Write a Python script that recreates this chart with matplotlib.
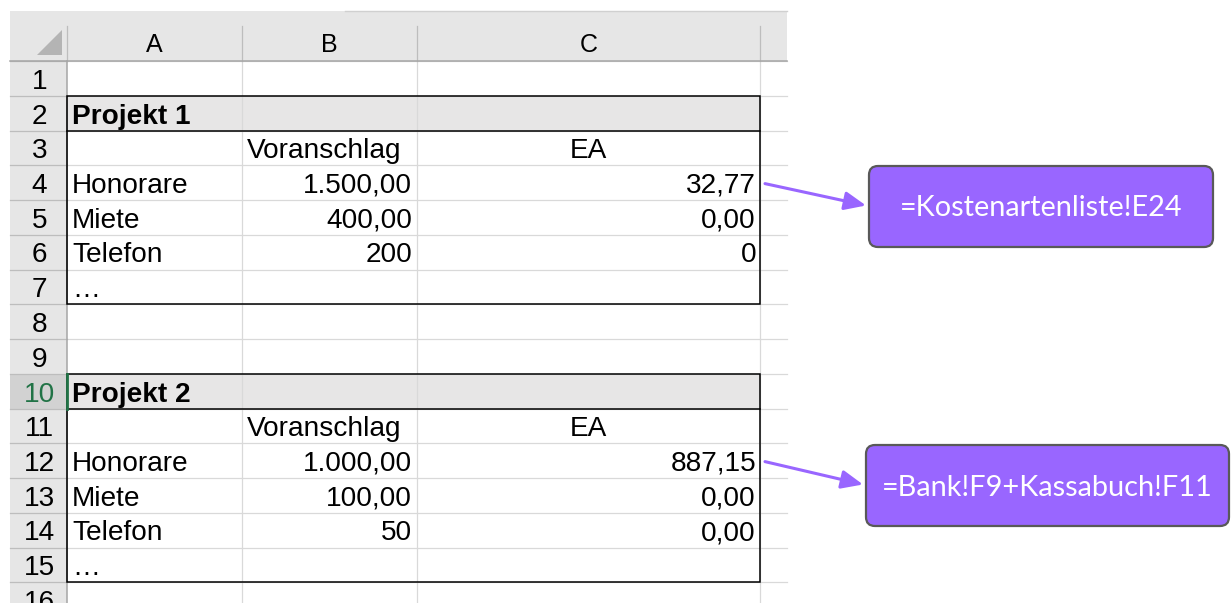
import matplotlib
matplotlib.use("Agg")
import matplotlib.pyplot as plt
from matplotlib.patches import Rectangle, Polygon, FancyBboxPatch

# --- sheet contents ---
col_letters = ["A", "B", "C"]
projects = ["Projekt 1", "Projekt 2"]
items = ["Honorare", "Miete", "Telefon", "…"]
voranschlag_1 = ["1.500,00", "400,00", "200"]
ea_1 = ["32,77", "0,00", "0"]
voranschlag_2 = ["1.000,00", "100,00", "50"]
ea_2 = ["887,15", "0,00", "0,00"]
formulas = ["=Kostenartenliste!E24", "=Bank!F9+Kassabuch!F11"]
n_rows = 16

# --- layout (pixels) ---
W, H = 1231, 603
col_x = [10, 67, 242, 417, 760, 787]   # row-header, A, B, C, D edges
head_top, head_bot = 11, 61
row_h = 34.75
purple = "#9966ff"

def rtop(r):
    return head_bot + (r - 1) * row_h

def rbot(r):
    return head_bot + r * row_h

fig = plt.figure(figsize=(W / 100, H / 100), dpi=100)
ax = fig.add_axes([0, 0, 1, 1])
ax.set_xlim(0, W)
ax.set_ylim(H, 0)
ax.axis("off")

cell_font = dict(family="Liberation Sans", fontsize=20.2, color="black")

# header band and row-header column
ax.add_patch(Rectangle((col_x[0], head_top), col_x[-1] - col_x[0], head_bot - head_top,
                       facecolor="#e6e6e6", edgecolor="none", zorder=1))
ax.add_patch(Rectangle((col_x[0], head_bot), col_x[1] - col_x[0], H - head_bot,
                       facecolor="#e6e6e6", edgecolor="none", zorder=1))
ax.plot([345, col_x[-1]], [10.5, 10.5], color="#d0d0d0", lw=1, zorder=2)
# active row header
ax.add_patch(Rectangle((col_x[0], rtop(10)), col_x[1] - col_x[0], row_h,
                       facecolor="#d2d2d2", edgecolor="none", zorder=1.5))
# select-all triangle
ax.add_patch(Polygon([(37, 55), (62, 55), (62, 30)], closed=True,
                     facecolor="#b4b4b4", edgecolor="none", zorder=2))

# project title fills
for r in (2, 10):
    ax.add_patch(Rectangle((col_x[1], rtop(r)), col_x[4] - col_x[1], row_h,
                           facecolor="#e7e6e6", edgecolor="none", zorder=1))

# grid lines
for r in range(0, n_rows + 1):
    y = rbot(r)
    ax.plot([col_x[1], col_x[-1]], [y, y], color="#d9d9d9", lw=0.9, zorder=2)
    ax.plot([col_x[0], col_x[1]], [y, y], color="#bdbdbd", lw=0.9, zorder=2)
for x in col_x[2:5]:
    ax.plot([x, x], [head_bot, H], color="#d9d9d9", lw=0.9, zorder=2)
for x in col_x[1:5]:
    ax.plot([x, x], [26, head_bot], color="#bdbdbd", lw=0.9, zorder=2)
ax.plot([col_x[0], col_x[-1]], [head_bot, head_bot], color="#a6a6a6", lw=1.1, zorder=2.5)
ax.plot([col_x[1], col_x[1]], [head_bot, H], color="#a6a6a6", lw=1.1, zorder=2.5)

# column letters
for i, c in enumerate(col_letters):
    ax.text((col_x[i + 1] + col_x[i + 2]) / 2, head_bot - 9, c, ha="center", va="baseline",
            family="Liberation Sans", fontsize=18, color="black", zorder=3)

# row numbers
for r in range(1, n_rows + 1):
    ax.text((col_x[0] + col_x[1]) / 2 + 1, rbot(r) - 7, str(r), ha="center", va="baseline",
            family="Liberation Sans", fontsize=20.2,
            color="#217346" if r == 10 else "black", zorder=3)

# project blocks
blocks = [(2, projects[0], voranschlag_1, ea_1), (10, projects[1], voranschlag_2, ea_2)]
for start, title, vor, ea in blocks:
    ax.text(col_x[1] + 5, rbot(start) - 7, title, ha="left", va="baseline",
            fontweight="bold", **cell_font, zorder=3)
    ax.text(col_x[2] + 5, rbot(start + 1) - 7, "Voranschlag", ha="left", va="baseline",
            **cell_font, zorder=3)
    ax.text((col_x[3] + col_x[4]) / 2, rbot(start + 1) - 7, "EA", ha="center", va="baseline",
            **cell_font, zorder=3)
    for k, name in enumerate(items):
        r = start + 2 + k
        ax.text(col_x[1] + 5, rbot(r) - 7, name, ha="left", va="baseline", **cell_font, zorder=3)
        if k < len(vor):
            ax.text(col_x[3] - 5, rbot(r) - 7, vor[k], ha="right", va="baseline",
                    **cell_font, zorder=3)
            ax.text(col_x[4] - 4, rbot(r) - 7, ea[k], ha="right", va="baseline",
                    **cell_font, zorder=3)
    # borders
    ax.add_patch(Rectangle((col_x[1], rtop(start)), col_x[4] - col_x[1], 6 * row_h,
                           facecolor="none", edgecolor="black", lw=1.1, zorder=4))
    ax.plot([col_x[1], col_x[4]], [rbot(start), rbot(start)], color="black", lw=1.1, zorder=4)

# active cell marker on A10
ax.plot([col_x[1], col_x[1]], [rtop(10), rbot(10)], color="#217346", lw=2, zorder=5)

# formula callouts
boxes = [(869, 166, 344, 81, 4), (866, 445, 363, 81, 12)]
for (bx, by, bw, bh, src_row), txt in zip(boxes, formulas):
    ax.add_patch(FancyBboxPatch((bx, by), bw, bh, boxstyle="round,pad=0,rounding_size=9",
                                facecolor=purple, edgecolor="#595959", lw=1.6, zorder=5))
    ax.text(bx + bw / 2, by + bh / 2 + 2, txt, ha="center", va="center",
            family="Lato", fontsize=20.8, color="white", zorder=6)
    ax.annotate("", xy=(bx - 3, by + bh / 2 - 1),
                xytext=(col_x[4] + 5, (rtop(src_row) + rbot(src_row)) / 2 + 1),
                arrowprops=dict(arrowstyle="-|>,head_length=0.65,head_width=0.28",
                                mutation_scale=20, color=purple, lw=2.2,
                                shrinkA=0, shrinkB=0), zorder=6)

fig.savefig("out.png", dpi=100)
